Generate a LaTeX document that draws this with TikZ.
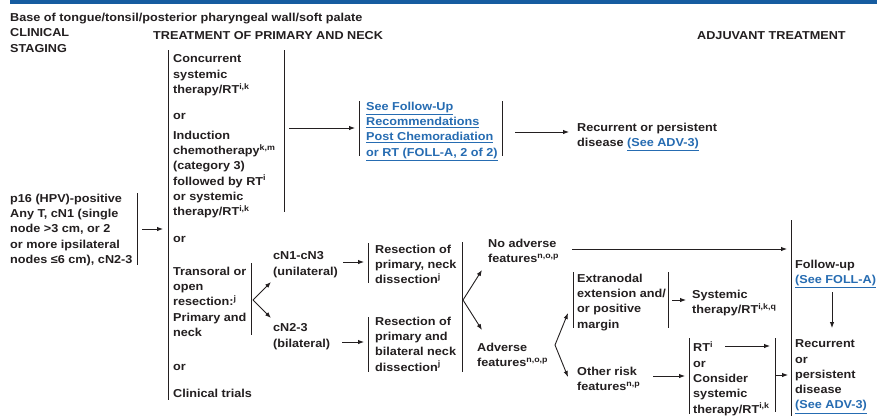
\documentclass[tikz,border=0pt]{standalone}
\usepackage{fontspec}
\usetikzlibrary{arrows.meta}
\newfontfamily\dia{Liberation Sans}[FakeStretch=1.1]
\definecolor{ink}{RGB}{35,31,32}
\definecolor{rulecol}{RGB}{22,92,160}
\definecolor{linkcol}{RGB}{38,108,178}
\newcommand{\lnk}[1]{\textcolor{linkcol}{\underline{#1}}}
\newcommand{\sx}[1]{\textsuperscript{#1}}
\tikzset{
  txt/.style={anchor=north west, inner sep=0pt, align=left, text=ink,
    font=\dia\bfseries\fontsize{11.5}{15.3}\selectfont,
    execute at begin node=\strut, yshift=3.4pt},
  bar/.style={draw=ink, line width=1pt},
  arr/.style={draw=ink, line width=0.9pt, -{Latex[length=6pt,width=4.5pt]}},
}
\begin{document}
\begin{tikzpicture}[x=1pt,y=-1pt]
\useasboundingbox[fill=white] (0,0) rectangle (877,416);
% heading rule
\coordinate (ruleL) at (10,2);
\coordinate (ruleR) at (877,2);
\draw[rulecol, line width=3.2pt] (ruleL) -- (ruleR);

% headings
\node[txt] (title) at (10,14) {Base of tongue/tonsil/posterior pharyngeal wall/soft palate};
\node[txt] (clin) at (10,32) {CLINICAL\\STAGING};
\node[txt] (treat) at (153,32) {TREATMENT OF PRIMARY AND NECK};
\node[txt] (adj) at (697,32) {ADJUVANT TREATMENT};

% staging
\node[txt] (stage) at (10,197) {p16 (HPV)-positive\\Any T, cN1 (single\\node >3 cm, or 2\\or more ipsilateral\\nodes ≤6 cm), cN2-3};

% primary treatment options
\node[txt] (conc) at (173,58) {Concurrent\\systemic\\therapy/RT\sx{i,k}};
\node[txt] (or1) at (173,112) {or};
\node[txt] (induc) at (173,134) {Induction\\chemotherapy\sx{k,m}\\(category 3)\\followed by RT\sx{i}\\or systemic\\therapy/RT\sx{i,k}};
\node[txt] (or2) at (173,235) {or};
\node[txt] (trans) at (173,270) {Transoral or\\open\\resection:\sx{j}\\Primary and\\neck};
\node[txt] (or3) at (173,363) {or};
\node[txt] (trials) at (173,390) {Clinical trials};

% after chemoradiation
\node[txt] (foll) at (366,105) {\lnk{See Follow-Up}\\\lnk{Recommendations}\\\lnk{Post Chemoradiation}\\\lnk{or RT (FOLL-A, 2 of 2)}};
\node[txt] (rec1) at (577,126) {Recurrent or persistent\\disease \lnk{(See ADV-3)}};

% surgical path
\node[txt] (uni) at (273,255) {cN1-cN3\\(unilateral)};
\node[txt] (bil) at (273,327) {cN2-3\\(bilateral)};
\node[txt] (resA) at (375,248) {Resection of\\primary, neck\\dissection\sx{j}};
\node[txt] (resB) at (375,320) {Resection of\\primary and\\bilateral neck\\dissection\sx{j}};
\node[txt] (noadv) at (488,242) {No adverse\\features\sx{n,o,p}};
\node[txt] (adv) at (477,346) {Adverse\\features\sx{n,o,p}};

% adjuvant
\node[txt] (extra) at (577,277) {Extranodal\\extension and/\\or positive\\margin};
\node[txt] (syst) at (692,293) {Systemic\\therapy/RT\sx{i,k,q}};
\node[txt] (other) at (577,370) {Other risk\\features\sx{n,p}};
\node[txt] (rt) at (693,345) {RT\sx{i}\\or\\Consider\\systemic\\therapy/RT\sx{i,k}};
\node[txt] (fu) at (795,263) {Follow-up\\\lnk{(See FOLL-A)}};
\node[txt] (rec2) at (795,343) {Recurrent\\or\\persistent\\disease\\\lnk{(See ADV-3)}};

% bracket bars
\coordinate (stT) at (137,193); \coordinate (stB) at (137,265);
\coordinate (cLT) at (168,50);  \coordinate (cLB) at (168,400);
\coordinate (cRT) at (284,50);  \coordinate (cRB) at (284,212);
\coordinate (tRT) at (251,263); \coordinate (tRB) at (251,335);
\coordinate (fLT) at (359,101); \coordinate (fLB) at (359,156);
\coordinate (fRT) at (502,101); \coordinate (fRB) at (502,156);
\coordinate (aT) at (368,243);  \coordinate (aB) at (368,283);
\coordinate (bT) at (368,317);  \coordinate (bB) at (368,372);
\coordinate (rRT) at (462,242); \coordinate (rRB) at (462,372);
\coordinate (eLT) at (573,272); \coordinate (eLB) at (573,328);
\coordinate (eRT) at (668,272); \coordinate (eRB) at (668,328);
\coordinate (qLT) at (689,338); \coordinate (qLB) at (689,414);
\coordinate (qRT) at (775,338); \coordinate (qRB) at (775,412);
\coordinate (uT) at (791,220);  \coordinate (uB) at (791,416);
\foreach \a/\b in {stT/stB,cLT/cLB,cRT/cRB,tRT/tRB,fLT/fLB,fRT/fRB,aT/aB,bT/bB,rRT/rRB,eLT/eLB,eRT/eRB,qLT/qLB,qRT/qRB,uT/uB}
  \draw[bar] (\a) -- (\b);

% connector end points
\coordinate (s1) at (142,229); \coordinate (e1) at (163,229);
\coordinate (s2) at (289,128); \coordinate (e2) at (355,128);
\coordinate (s3) at (515,132); \coordinate (e3) at (569,132);
\coordinate (v1) at (253,300); \coordinate (v1u) at (271,282); \coordinate (v1d) at (271,318);
\coordinate (s4) at (343,262); \coordinate (e4) at (364,262);
\coordinate (s5) at (342,342); \coordinate (e5) at (364,342);
\coordinate (v2) at (463,300); \coordinate (v2u) at (482,270); \coordinate (v2d) at (482,330);
\coordinate (s6) at (572,249); \coordinate (e6) at (787,249);
\coordinate (v3) at (555,345); \coordinate (v3u) at (568,313); \coordinate (v3d) at (568,377);
\coordinate (s7) at (672,300); \coordinate (e7) at (686,300);
\coordinate (s8) at (653,376); \coordinate (e8) at (685,376);
\coordinate (s9) at (725,346); \coordinate (e9) at (770,346);
\coordinate (s10) at (776,375); \coordinate (e10) at (788,375);
\coordinate (s11) at (832,292); \coordinate (e11) at (832,328);

\foreach \a/\b in {s1/e1,s2/e2,s3/e3,v1/v1u,v1/v1d,s4/e4,s5/e5,v2/v2u,v2/v2d,s6/e6,v3/v3u,v3/v3d,s7/e7,s8/e8,s9/e9,s10/e10,s11/e11}
  \draw[arr] (\a) -- (\b);
\end{tikzpicture}
\end{document}
